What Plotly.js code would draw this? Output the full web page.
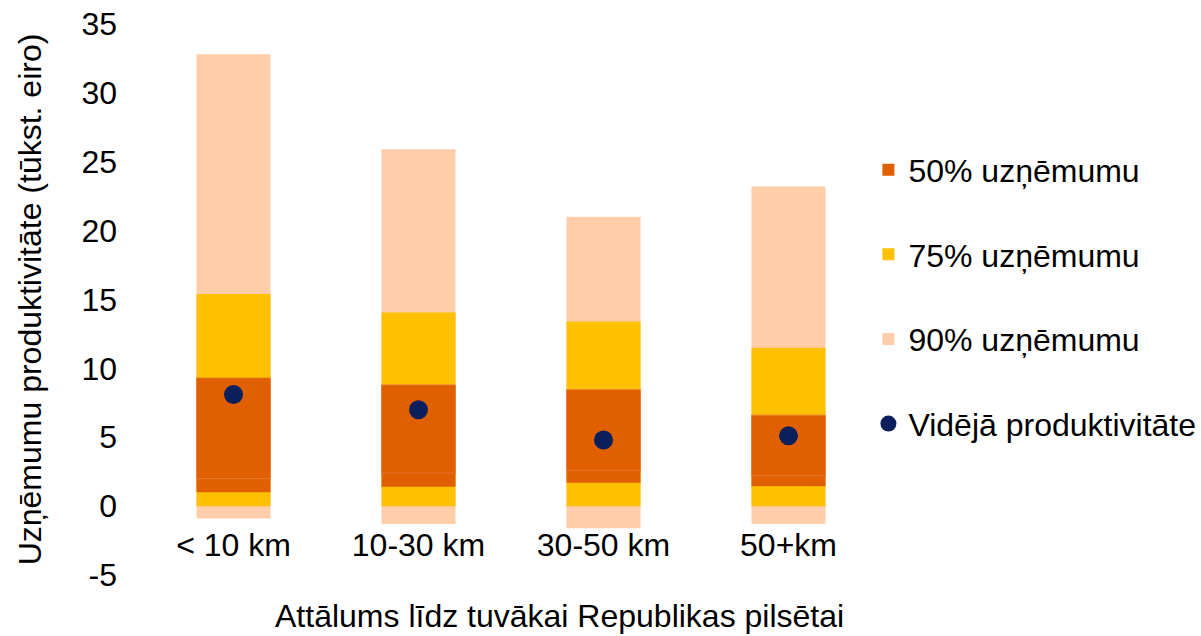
<!DOCTYPE html>
<html>
<head>
<meta charset="utf-8">
<script src="https://cdn.plot.ly/plotly-3.0.1.min.js"></script>
<style>html,body{margin:0;padding:0;background:#fff;}#chart{width:1201px;height:636px;}</style>
</head>
<body>
<div id="chart"></div>
<script>
const categories = ['< 10 km', '10-30 km', '30-50 km', '50+km'];
const p90Low  = [-0.9, -1.3, -1.6, -1.3];
const p90High = [32.8, 25.9, 21.0, 23.2];
const p75Low  = [0, 0, 0, 0];
const p75High = [15.4, 14.05, 13.4, 11.5];
const p50Low  = [1.0, 1.4, 1.7, 1.45];
const p50Mid  = [2.0, 2.4, 2.6, 2.2];
const p50High = [9.3, 8.8, 8.45, 6.6];
const meanVal = [8.1, 7.0, 4.8, 5.1];
const yTickVals = [-5, 0, 5, 10, 15, 20, 25, 30, 35];
const yTickText = ['-5', '0', '5', '10', '15', '20', '25', '30', '35'];
const xTitle = 'Attālums līdz tuvākai Republikas pilsētai';

const diff = (hi, lo) => hi.map((v, i) => v - lo[i]);
const FONT = 'Liberation Sans, Arial, sans-serif';
const FS = 32;
const W = 0.4;

const traces = [
  {type: 'bar', name: '90% uzņēmumu', x: categories, base: p90Low, y: diff(p90High, p90Low),
   width: W, marker: {color: '#FFCDAA'}, legendgroup: 'g3', legendrank: 3, hoverinfo: 'skip'},
  {type: 'bar', name: '75% uzņēmumu', x: categories, base: p75Low, y: diff(p75High, p75Low),
   width: W, marker: {color: '#FFC000'}, legendgroup: 'g2', legendrank: 2, hoverinfo: 'skip'},
  {type: 'bar', name: '50% uzņēmumu', x: categories, base: p50Low, y: diff(p50Mid, p50Low),
   width: W, marker: {color: '#E06000'}, legendgroup: 'g1', legendrank: 1, hoverinfo: 'skip'},
  {type: 'bar', name: '50% uzņēmumu', x: categories, base: p50Mid, y: diff(p50High, p50Mid),
   width: W, marker: {color: '#E06000', line: {color: '#E8743A', width: 0.8}},
   legendgroup: 'g1', showlegend: false, hoverinfo: 'skip'},
  {type: 'scatter', mode: 'markers', name: 'Vidējā produktivitāte', x: categories, y: meanVal,
   marker: {color: '#0A1F5C', size: 19}, legendgroup: 'g4', legendrank: 4}
];

const layout = {
  width: 1201, height: 636,
  margin: {l: 141, r: 320, t: 24, b: 61, autoexpand: false},
  paper_bgcolor: '#fff', plot_bgcolor: '#fff',
  barmode: 'overlay',
  font: {family: FONT, size: FS, color: '#000'},
  showlegend: true,
  legend: {x: 0.983, xanchor: 'left', y: 0.785, yanchor: 'top',
           traceorder: 'grouped', tracegroupgap: 40,
           font: {family: FONT, size: FS, color: '#000'}},
  xaxis: {
    type: 'category', range: [-0.5, 3.5],
    anchor: 'free', position: 0.095,
    showgrid: false, zeroline: false, showline: false, ticks: '',
    tickfont: {family: FONT, size: FS}
  },
  yaxis: {
    range: [-5, 35], tickmode: 'array', tickvals: yTickVals, ticktext: yTickText,
    showgrid: false, zeroline: false, showline: false, ticks: '',
    ticklabelstandoff: 23,
    tickfont: {family: FONT, size: FS},
    title: {text: 'Uzņēmumu produktivitāte (tūkst. eiro)', standoff: 30,
            font: {family: FONT, size: FS}}
  },
  annotations: [{
    text: xTitle, xref: 'paper', yref: 'paper', x: 0.565, y: -0.074,
    xanchor: 'center', yanchor: 'middle', showarrow: false, borderpad: 0,
    font: {family: FONT, size: FS, color: '#000'}
  }]
};

Plotly.newPlot('chart', traces, layout, {displayModeBar: false, staticPlot: true});
</script>
</body>
</html>
